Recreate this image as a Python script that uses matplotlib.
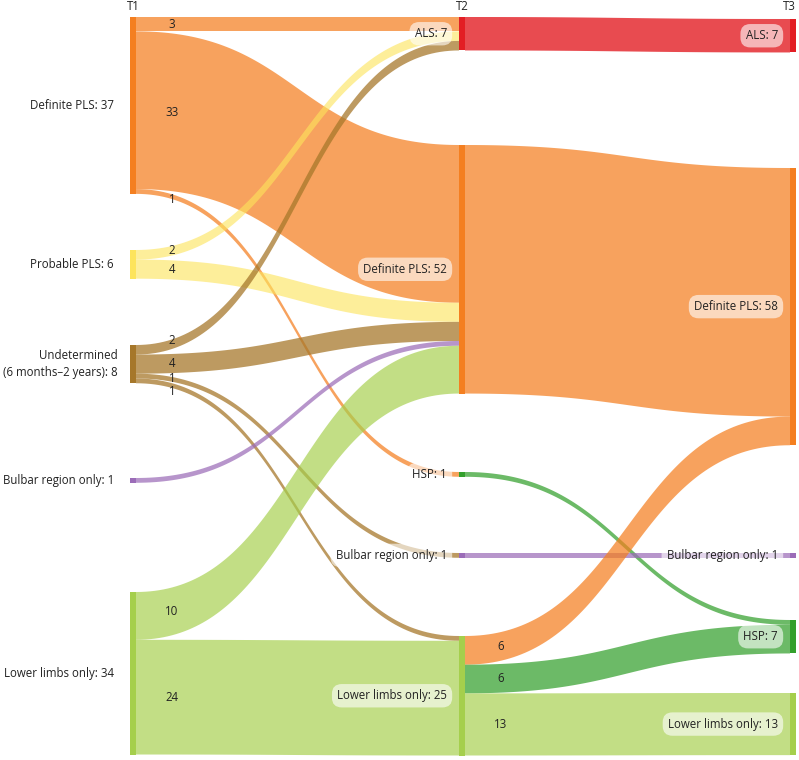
import matplotlib
matplotlib.use("Agg")
import matplotlib.pyplot as plt
from matplotlib.patches import Polygon, Rectangle
import numpy as np

plt.rcParams['font.family'] = ['Open Sans', 'DejaVu Sans']

# ---------------- data ----------------
columns = ["T1", "T2", "T3"]
t1_nodes = ["Definite PLS", "Probable PLS", "Undetermined\n(6 months–2 years)", "Bulbar region only", "Lower limbs only"]
t1_values = [37, 6, 8, 1, 34]
t2_nodes = ["ALS", "Definite PLS", "HSP", "Bulbar region only", "Lower limbs only"]
t2_values = [7, 52, 1, 1, 25]
t3_nodes = ["ALS", "Definite PLS", "Bulbar region only", "HSP", "Lower limbs only"]
t3_values = [7, 58, 1, 7, 13]

# links T1 -> T2  (source index, target index, value)
links12_src = [0, 0, 0, 1, 1, 2, 2, 2, 2, 3, 4, 4]
links12_tgt = [0, 1, 2, 0, 1, 0, 1, 3, 4, 1, 1, 4]
links12_val = [3, 33, 1, 2, 4, 2, 4, 1, 1, 1, 10, 24]
# links T2 -> T3
links23_src = [0, 1, 2, 3, 4, 4, 4]
links23_tgt = [0, 1, 3, 2, 1, 3, 4]
links23_val = [7, 52, 1, 1, 6, 6, 13]

# ---------------- layout / style ----------------
W, H = 799, 760
col_x = [130, 459, 790]          # node left edges (px)
node_w = 6
scale = 4.78                      # px per unit
node_tops = [[17, 250, 345, 478, 592],
             [17, 145, 472, 553, 636],
             [19, 168, 553, 620, 693]]

cat_color = {
    "Definite PLS": "#f47f20",
    "Probable PLS": "#fde45c",
    "Undetermined\n(6 months–2 years)": "#a6772a",
    "Bulbar region only": "#9b6cb8",
    "Lower limbs only": "#a5cf4c",
    "ALS": "#e31e24",
    "HSP": "#33a02c",
}
cat_alpha = {
    "Definite PLS": 0.72,
    "Probable PLS": 0.62,
    "Undetermined\n(6 months–2 years)": 0.74,
    "Bulbar region only": 0.72,
    "Lower limbs only": 0.68,
    "ALS": 0.8,
    "HSP": 0.72,
}
FS = 8.3
TXT = "#222222"

fig = plt.figure(figsize=(W / 100, H / 100), dpi=100)
ax = fig.add_axes([0, 0, 1, 1])
ax.set_xlim(0, W)
ax.set_ylim(H, 0)
ax.axis("off")

names = [t1_nodes, t2_nodes, t3_nodes]
vals = [t1_values, t2_values, t3_values]


def bez(x0, y0, x1, y1, t):
    xm = (x0 + x1) / 2
    x = (1 - t) ** 3 * x0 + 3 * (1 - t) ** 2 * t * xm + 3 * (1 - t) * t ** 2 * xm + t ** 3 * x1
    y = (1 - t) ** 3 * y0 + 3 * (1 - t) ** 2 * t * y0 + 3 * (1 - t) * t ** 2 * y1 + t ** 3 * y1
    return x, y


def y_at_x(x0, y0, x1, y1, xq):
    lo, hi = 0.0, 1.0
    for _ in range(50):
        mid = (lo + hi) / 2
        xm, _ = bez(x0, y0, x1, y1, mid)
        if xm < xq:
            lo = mid
        else:
            hi = mid
    return bez(x0, y0, x1, y1, (lo + hi) / 2)[1]


def draw_links(ci, srcs, tgts, vs, color_by, label_x=None, label_nudge=None):
    n = len(vs)
    s_off, t_off = {}, {}
    order_s = sorted(range(n), key=lambda i: (srcs[i], node_tops[ci + 1][tgts[i]]))
    cur = {}
    for i in order_s:
        s = srcs[i]
        base = cur.get(s, node_tops[ci][s])
        s_off[i] = base
        cur[s] = base + vs[i] * scale
    order_t = sorted(range(n), key=lambda i: (tgts[i], node_tops[ci][srcs[i]]))
    cur = {}
    for i in order_t:
        tg = tgts[i]
        base = cur.get(tg, node_tops[ci + 1][tg])
        t_off[i] = base
        cur[tg] = base + vs[i] * scale
    x0 = col_x[ci] + node_w
    x1 = col_x[ci + 1]
    ts = np.linspace(0, 1, 100)
    for i in range(n):
        h = vs[i] * scale
        sy0, ty0 = s_off[i], t_off[i]
        sy1, ty1 = sy0 + h, ty0 + h
        top = [bez(x0, sy0, x1, ty0, t) for t in ts]
        bot = [bez(x0, sy1, x1, ty1, t) for t in ts][::-1]
        nm = names[ci][srcs[i]] if color_by == "source" else names[ci + 1][tgts[i]]
        ax.add_patch(Polygon(top + bot, closed=True, facecolor=cat_color[nm],
                             alpha=cat_alpha[nm], edgecolor="none", zorder=1))
        if label_x is not None and srcs.count(srcs[i]) > 1:
            yc = (y_at_x(x0, sy0, x1, ty0, label_x) + y_at_x(x0, sy1, x1, ty1, label_x)) / 2
            if label_nudge:
                yc += label_nudge.get(i, 0)
            ax.text(label_x, yc, str(vs[i]), ha="center", va="center", fontsize=FS,
                    color=TXT, zorder=5)


draw_links(0, links12_src, links12_tgt, links12_val, "source", label_x=172,
           label_nudge={2: 3, 5: -4, 7: -1, 8: 6})
draw_links(1, links23_src, links23_tgt, links23_val, "target", label_x=501)

# nodes
for ci in range(3):
    for j, nm in enumerate(names[ci]):
        ax.add_patch(Rectangle((col_x[ci], node_tops[ci][j]), node_w, vals[ci][j] * scale,
                               facecolor=cat_color[nm], edgecolor="none", zorder=3))

# column titles
ax.text(col_x[0] + 3, 7, columns[0], ha="center", va="center", fontsize=FS, color=TXT)
ax.text(col_x[1] + 3, 7, columns[1], ha="center", va="center", fontsize=FS, color=TXT)
ax.text(W - 3, 7, columns[2], ha="right", va="center", fontsize=FS, color=TXT)

# T1 labels (left, no box)
for j, nm in enumerate(t1_nodes):
    yc = node_tops[0][j] + t1_values[j] * scale / 2
    ax.text(114 + (4 if "\n" in nm else 0), yc, f"{nm}: {t1_values[j]}", ha="right", va="center",
            fontsize=FS, color=TXT, multialignment="right", linespacing=1.35)

# T2 / T3 labels with rounded translucent boxes
for ci in (1, 2):
    for j, nm in enumerate(names[ci]):
        yc = node_tops[ci][j] + vals[ci][j] * scale / 2
        ax.text(col_x[ci] - 12, yc, f"{nm}: {vals[ci][j]}", ha="right", va="center",
                fontsize=FS, color=TXT, zorder=6,
                bbox=dict(boxstyle="round,pad=0.45,rounding_size=0.85", facecolor="white",
                          alpha=0.6, edgecolor="none"))

fig.savefig("out.png", dpi=100)
